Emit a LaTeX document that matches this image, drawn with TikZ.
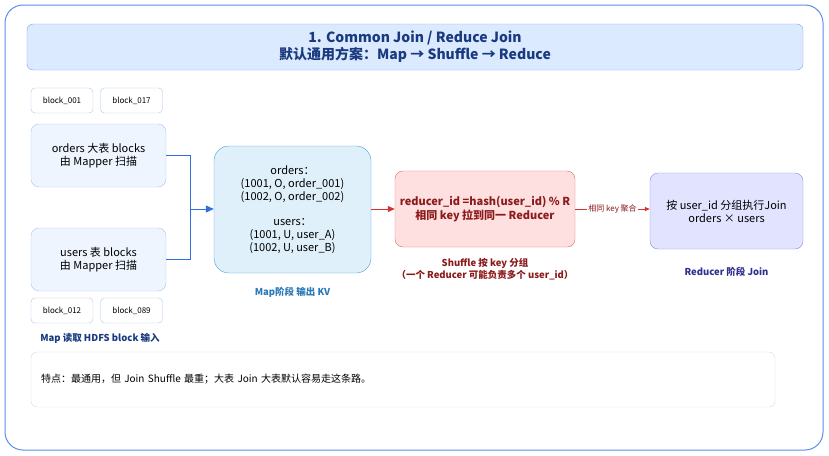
\documentclass[tikz,border=0pt]{standalone}
\usepackage{fontspec}
\setmainfont{Noto Sans CJK SC}
\usetikzlibrary{arrows.meta,positioning}
\definecolor{frameblue}{HTML}{5B8DEF}
\definecolor{titlefill}{HTML}{DBEAFE}
\definecolor{titletext}{HTML}{1A3A80}
\definecolor{blkline}{HTML}{A8C8F0}
\definecolor{tblfill}{HTML}{EEF5FF}
\definecolor{mapfill}{HTML}{DFF0FB}
\definecolor{mapline}{HTML}{4AA0D8}
\definecolor{maptext}{HTML}{2A7AB8}
\definecolor{shfill}{HTML}{FFE0E0}
\definecolor{shline}{HTML}{E06A6A}
\definecolor{shtext}{HTML}{8B1A1A}
\definecolor{redfill}{HTML}{E2E4FF}
\definecolor{redline}{HTML}{8A8AE8}
\definecolor{redtext}{HTML}{303090}
\definecolor{arrowblue}{HTML}{2F6FE0}
\definecolor{arrowred}{HTML}{D93030}
\tikzset{
  box/.style={draw, rounded corners=8pt, align=center, inner sep=0pt, font=\fontsize{11}{13}\selectfont},
  blk/.style={draw=blkline, fill=white, rounded corners=4pt, minimum width=62pt, minimum height=25pt, inner sep=0pt, font=\fontsize{8}{10}\selectfont},
  tbl/.style={box, draw=blkline, fill=tblfill, minimum width=135pt, minimum height=63pt},
  caption/.style={font=\bfseries\fontsize{9.5}{12}\selectfont, align=center},
}
\begin{document}
\begin{tikzpicture}[x=1pt, y=-1pt]
  \useasboundingbox (0,0) rectangle (829,455);
  % frame and title
  \draw[frameblue, fill=white, rounded corners=18pt, line width=1pt] (5,5) rectangle (823,450);
  \node (title) [draw=frameblue!80, fill=titlefill, rounded corners=6pt, minimum width=776pt, minimum height=46pt,
    align=center, text=titletext, font=\bfseries\fontsize{14}{17}\selectfont] at (415,47)
    {1. Common Join / Reduce Join\\默认通用方案：Map → Shuffle → Reduce};
  % input blocks
  \node (b001) [blk] at (62,100.5) {block\_001};
  \node (b017) [blk] at (131.5,100.5) {block\_017};
  \node (orders) [tbl] at (98.5,155.5) {orders 大表 blocks\\由 Mapper 扫描};
  \node (users) [tbl] at (98.5,259.5) {users 表 blocks\\由 Mapper 扫描};
  \node (b012) [blk] at (62,310.5) {block\_012};
  \node (b089) [blk] at (131.5,310.5) {block\_089};
  \node (incap) [caption, text=titletext] at (100,338) {Map 读取 HDFS block 输入};
  % map output
  \node (map) [box, draw=mapline, fill=mapfill, rounded corners=15pt, minimum width=157pt, minimum height=127pt] at (292.5,209.5)
    {orders：\\(1001, O, order\_001)\\(1002, O, order\_002)\\[12pt]users：\\(1001, U, user\_A)\\(1002, U, user\_B)};
  \node (mapcap) [caption, text=maptext, below=10pt of map] {Map阶段 输出 KV};
  % shuffle
  \node (shuffle) [box, draw=shline, fill=shfill, text=shtext, font=\bfseries\fontsize{11}{14}\selectfont,
    minimum width=180pt, minimum height=76pt] at (485,209) {reducer\_id =hash(user\_id) \% R\\相同 key 拉到同一 Reducer};
  \node (shcap) [caption, text=shtext, below=8pt of shuffle] {Shuffle 按 key 分组\\（一个 Reducer 可能负责多个 user\_id）};
  % reducer
  \node (reducer) [box, draw=redline, fill=redfill, minimum width=153pt, minimum height=76pt] at (726.5,211)
    {按 user\_id 分组执行Join\\orders × users};
  \node (redcap) [caption, text=redtext, below=14pt of reducer] {Reducer 阶段 Join};
  % connectors
  \coordinate (join) at (190,209);
  \draw[arrowblue, line width=1pt] (orders.east) -| (join);
  \draw[arrowblue, line width=1pt] (users.east) -| (join);
  \draw[arrowblue, line width=1pt, -{Triangle[length=8pt,width=7pt]}] (join) -- (map.west |- join);
  \draw[arrowred, line width=1pt, -{Triangle[length=7pt,width=6pt]}] (map.east |- join) -- (shuffle.west |- join);
  \draw[arrowred, line width=0.8pt, -{Triangle[length=5pt,width=4pt]}] (shuffle.east |- join) -- (reducer.west |- join)
    node[midway, fill=white, inner sep=1pt, text=shtext, font=\fontsize{8}{10}\selectfont] {相同 key 聚合};
  % note
  \node (note) [draw=black!15, fill=white, rounded corners=6pt, minimum width=744pt, minimum height=55pt,
    text width=724pt, align=left, font=\fontsize{10}{12}\selectfont] at (403,379.5)
    {特点：最通用，但 Join Shuffle 最重；大表 Join 大表默认容易走这条路。};
\end{tikzpicture}
\end{document}
